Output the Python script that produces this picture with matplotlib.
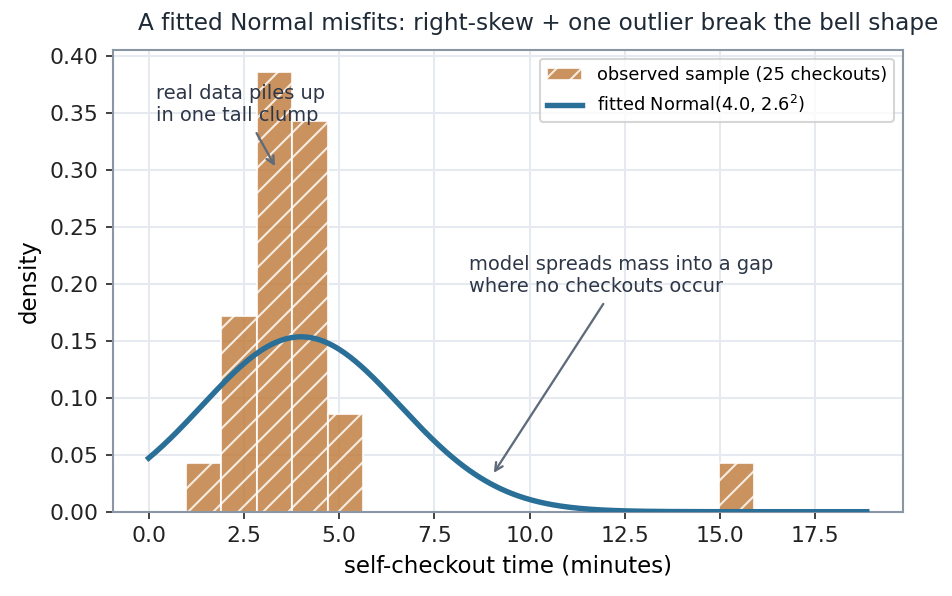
import numpy as np
import matplotlib
matplotlib.use("Agg")
import matplotlib.pyplot as plt

# ---- data ----
checkout_times = [0.97,
                  2.1, 2.4, 2.6, 2.8,
                  2.9, 3.0, 3.1, 3.2, 3.3, 3.4, 3.5, 3.6, 3.7,
                  3.8, 3.9, 4.0, 4.1, 4.2, 4.3, 4.4, 4.6,
                  4.9, 5.3,
                  15.9]
n_bins = 16
fit_mu = 4.0
fit_sigma = 2.6
curve_range = [0.0, 18.85]

title = "A fitted Normal misfits: right-skew + one outlier break the bell shape"
xlabel = "self-checkout time (minutes)"
ylabel = "density"
hist_label = "observed sample (25 checkouts)"
line_label = r"fitted Normal(4.0, 2.6$^2$)"
note1 = "real data piles up\nin one tall clump"
note2 = "model spreads mass into a gap\nwhere no checkouts occur"

W, H, DPI = 952, 596, 150
fig = plt.figure(figsize=(W / DPI, H / DPI), dpi=DPI)
ax = fig.add_axes([112.7 / W, 1 - 511.7 / H, (902.7 - 112.7) / W, (511.7 - 50) / H])

ax.set_axisbelow(True)
ax.grid(True, color="#e6e9ef", linewidth=1.0)

ax.hist(checkout_times, bins=n_bins, density=True, color="#bf7a3a", alpha=0.82,
        edgecolor="white", linewidth=1.0, hatch="//", label=hist_label, zorder=2)

xs = np.linspace(curve_range[0], curve_range[1], 400)
pdf = np.exp(-0.5 * ((xs - fit_mu) / fit_sigma) ** 2) / (fit_sigma * np.sqrt(2 * np.pi))
ax.plot(xs, pdf, color="#2a6f97", linewidth=2.6, label=line_label, zorder=3)

ax.set_ylim(bottom=0)

txt_color = "#2d3748"
arr = dict(arrowstyle="->", color="#5f6b7a", lw=1.1)
ax.annotate(note1, xy=(3.37, 0.300), xytext=(0.2, 0.357), ha="left", va="center",
            fontsize=9.3, color=txt_color, arrowprops=arr, zorder=4)
ax.annotate(note2, xy=(9.0, 0.031), xytext=(8.42, 0.207), ha="left", va="center",
            fontsize=9.3, color=txt_color, arrowprops=arr, zorder=4)

for s in ax.spines.values():
    s.set_color("#8a96a3")
    s.set_linewidth(1.0)
ax.tick_params(labelsize=10.5, colors="#222222")
ax.set_xlabel(xlabel, fontsize=11)
ax.set_ylabel(ylabel, fontsize=11)

leg = ax.legend(loc="upper right", fontsize=8.5, frameon=True)
leg.get_frame().set_edgecolor("#cccccc")

fig.text(538 / W, 1 - 30 / H, title, ha="center", va="baseline", fontsize=11.1, color="#1f2a37")

fig.savefig("out.png", dpi=DPI)
